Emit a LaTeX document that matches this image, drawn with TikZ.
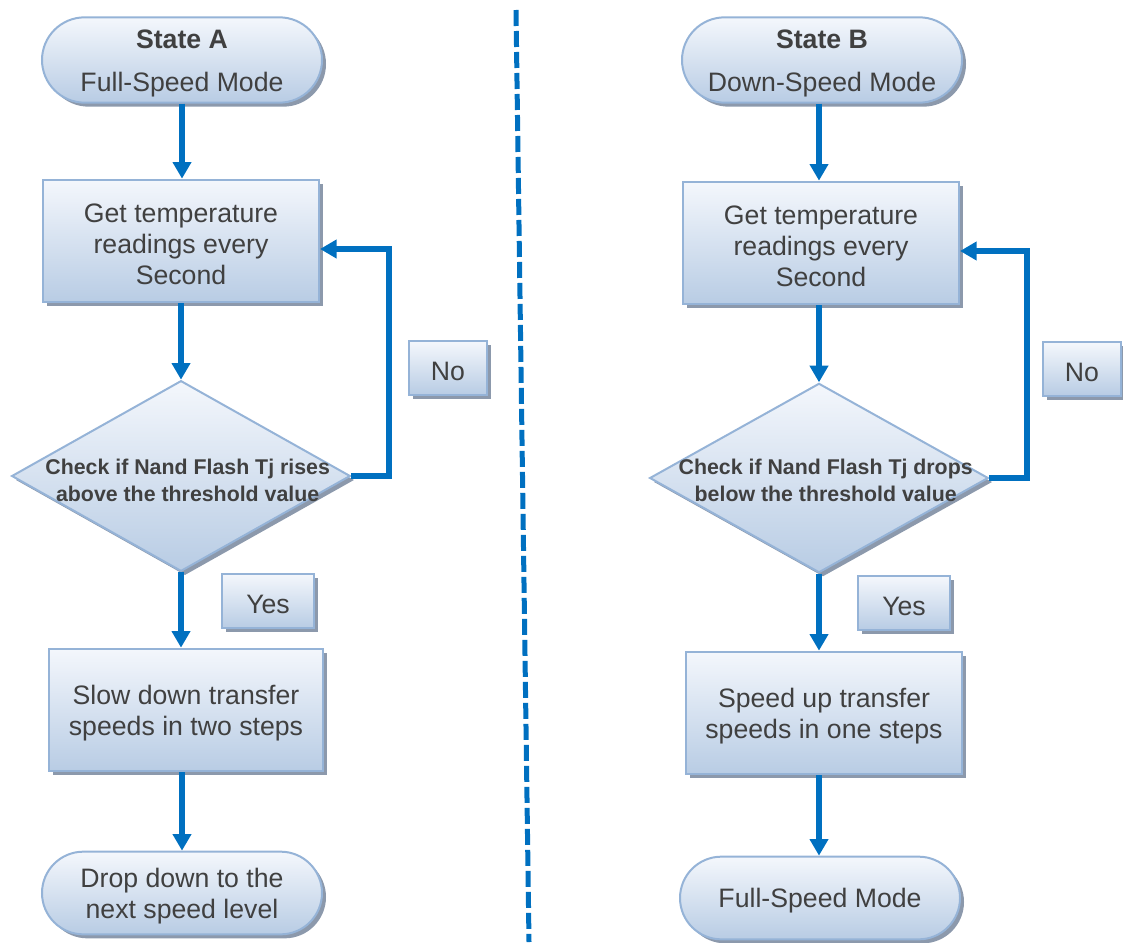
\documentclass[tikz,border=0pt]{standalone}
\usepackage{fontspec}
\setmainfont{Liberation Sans}
\usetikzlibrary{shapes.geometric, shapes.misc, arrows.meta, shadows}
\definecolor{flowBlue}{RGB}{0, 112, 192}
\definecolor{boxEdge}{RGB}{149, 179, 215}
\definecolor{boxTop}{RGB}{244, 247, 252}
\definecolor{boxBottom}{RGB}{184, 204, 228}
\definecolor{shadowGray}{RGB}{140, 153, 172}
\definecolor{inkGray}{RGB}{64, 64, 64}
\newcommand{\zeroWide}[2]{\makebox[0pt]{\hspace*{10pt}\raisebox{#1}[\height][\depth]{#2}}}
\newcommand{\topStrut}{\rule{0pt}{19pt}}
\tikzset{
  flowBox/.style={
    draw=boxEdge,
    line width=1.5pt,
    top color=boxTop,
    bottom color=boxBottom,
    drop shadow={shadow xshift=3pt, shadow yshift=-3pt, fill=shadowGray, opacity=1},
    text=inkGray,
    align=center,
    inner sep=0pt,
    font=\fontsize{20}{23.25}\selectfont
  },
  termNode/.style={flowBox, rounded rectangle, minimum width=210pt, minimum height=64pt},
  procNode/.style={flowBox, rectangle, minimum width=207pt, minimum height=92pt},
  checkNode/.style={
    flowBox,
    diamond,
    minimum width=254pt,
    minimum height=143pt,
    font=\fontsize{16}{20.5}\selectfont\bfseries
  },
  answerNode/.style={flowBox, rectangle, minimum height=40pt},
  flowArrow/.style={
    draw=flowBlue,
    line width=4.25pt,
    -{Triangle[length=12.5pt, width=13.5pt]}
  },
  divider/.style={draw=flowBlue, line width=3.75pt, dash pattern=on 12pt off 3.75pt}
}
\begin{document}
\begin{tikzpicture}[x=0.75pt, y=-0.75pt]
  \useasboundingbox (0,0) rectangle (1123,942);
  % State A
  \node[termNode] (stateA) at (182,60) {\topStrut\textbf{State A}\\[9pt]Full-Speed Mode};
  \node[procNode] (readA) at (181,241) {\topStrut Get temperature\\readings every\\Second};
  \node[checkNode] (chkA) at (181,476)
    {\zeroWide{-5pt}{\begin{tabular}{@{}c@{}}Check if Nand Flash Tj rises\\above the threshold value\end{tabular}}};
  \node[answerNode, minimum width=59pt] (noA) at (448,368) {\topStrut No};
  \node[answerNode, minimum width=69pt, minimum height=41pt] (yesA) at (268,601) {\topStrut Yes};
  \node[procNode, minimum width=206pt] (slowA) at (186,710) {\topStrut Slow down transfer\\speeds in two steps};
  \node[termNode, minimum height=62pt] (dropA) at (182,893) {\topStrut Drop down to the\\next speed level};
  \coordinate (loopA) at (389,249);
  \draw[flowArrow] (stateA.south) -- (stateA.south |- readA.north);
  \draw[flowArrow] (readA.south) -- (readA.south |- chkA.north);
  \draw[flowArrow] (chkA.east) -| (loopA) -- (loopA -| readA.east);
  \draw[flowArrow] (chkA.south) -- (chkA.south |- slowA.north);
  \draw[flowArrow] (slowA.south -| stateA.south) -- (stateA.south |- dropA.north);
  % divider
  \coordinate (divTop) at (516,10);
  \coordinate (divBot) at (529,942);
  \draw[divider] (divTop) -- (divBot);
  % State B
  \node[termNode] (stateB) at (822,60) {\topStrut\textbf{State B}\\[9pt]Down-Speed Mode};
  \node[procNode] (readB) at (821,243) {\topStrut Get temperature\\readings every\\Second};
  \node[checkNode, minimum height=142pt] (chkB) at (819,478)
    {\zeroWide{-3.5pt}{\begin{tabular}{@{}c@{}}Check if Nand Flash Tj drops\\below the threshold value\end{tabular}}};
  \node[answerNode, minimum width=58pt] (noB) at (1082,369) {\topStrut No};
  \node[answerNode, minimum width=69pt] (yesB) at (904,603) {\topStrut Yes};
  \node[procNode] (fastB) at (824,713) {\topStrut Speed up transfer\\speeds in one steps};
  \node[termNode, minimum height=62pt] (fullB) at (820,898) {\topStrut Full-Speed Mode};
  \coordinate (loopB) at (1027,251);
  \draw[flowArrow] (stateB.south -| chkB.north) -- (chkB.north |- readB.north);
  \draw[flowArrow] (readB.south -| chkB.north) -- (chkB.north);
  \draw[flowArrow] (chkB.east) -| (loopB) -- (loopB -| readB.east);
  \draw[flowArrow] (chkB.south) -- (chkB.south |- fastB.north);
  \draw[flowArrow] (fastB.south -| chkB.south) -- (chkB.south |- fullB.north);
\end{tikzpicture}
\end{document}
